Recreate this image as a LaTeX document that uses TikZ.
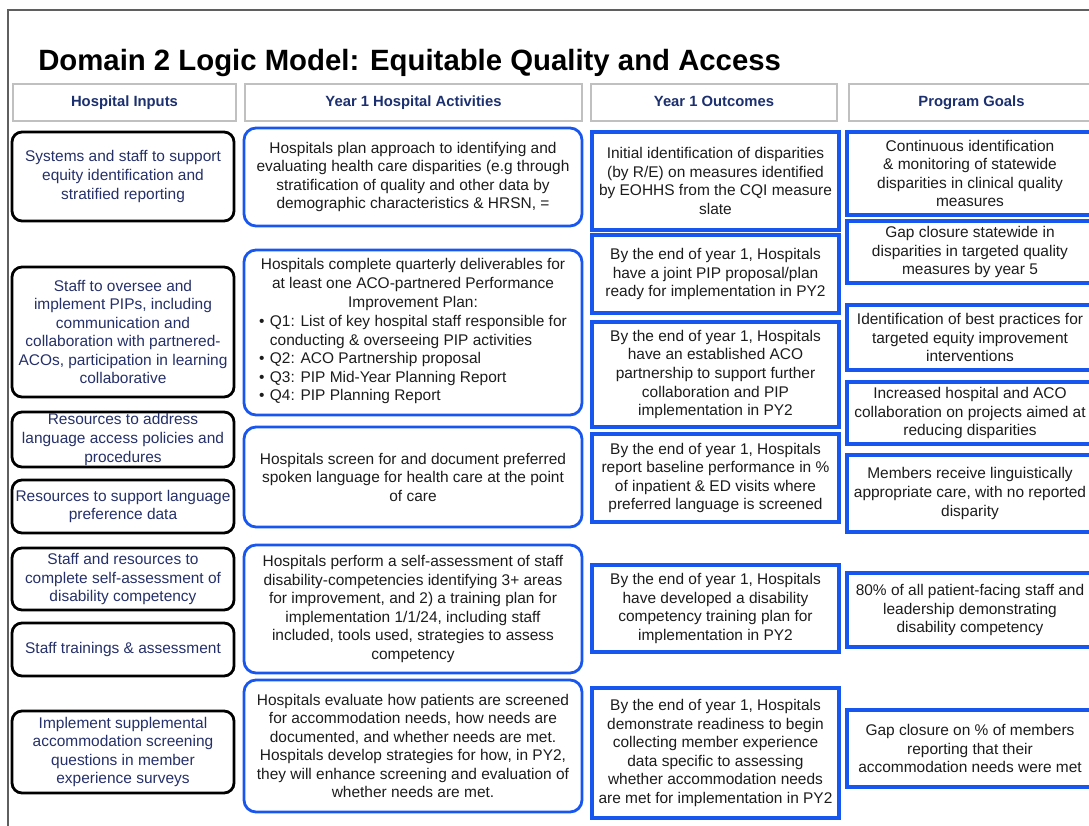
\documentclass[tikz,border=0pt]{standalone}
\usepackage{fontspec}
\setmainfont{Liberation Sans}
\definecolor{navy}{RGB}{37,48,105}
\definecolor{hnavy}{RGB}{28,48,112}
\definecolor{bbl}{RGB}{24,86,240}
\definecolor{hdrgray}{RGB}{192,192,192}
\definecolor{framegray}{RGB}{95,95,95}
\definecolor{txt}{RGB}{28,28,28}
\begin{document}
\begin{tikzpicture}[x=0.75pt,y=-0.75pt,
 base/.style={inner sep=0pt, align=center, font=\fontsize{11.6}{13.9}\selectfont},
 spot/.style n args={4}{minimum width={(#3-#1)*0.75pt}, minimum height={(#4-#2)*0.75pt}, at={({(#1+#3)/2},{(#2+#4)/2})}},
 hdr/.style={base, draw=hdrgray, line width=2.2pt, text=hnavy, text height=8.2pt, text depth=2.4pt, font=\fontsize{11.1}{13.3}\selectfont\bfseries},
 inbox/.style={base, draw=black, line width=2.1pt, rounded corners=7.5pt, text=navy},
 actbox/.style={base, draw=bbl, line width=2.1pt, rounded corners=9pt, text=txt},
 outbox/.style={base, draw=bbl, line width=2.5pt, text=txt},
 frameline/.style={draw=framegray, line width=1.2pt}
]
\useasboundingbox (0,0) rectangle (1089,825);
\clip (0,0) rectangle (1089,825);

% frame
\coordinate (ftr) at (1100,10);
\coordinate (ftl) at (8,10);
\coordinate (fbl) at (8,830);
\draw[frameline] (ftr) -- (ftl) -- (fbl);

% title
\node[inner sep=0pt, anchor=base west, font=\fontsize{22}{26}\selectfont\bfseries] (title) at (38,70) {Domain 2 Logic Model: Equitable Quality and Access};

% headers
\node[hdr, spot={13}{84}{236}{121}] (h1) {Hospital Inputs};
\node[hdr, spot={245}{84}{582}{121}] (h2) {Year 1 Hospital Activities};
\node[hdr, spot={591}{84}{837}{121}] (h3) {Year 1 Outcomes};
\node[hdr, spot={849}{84}{1094}{121}] (h4) {Program Goals};

% column 1: inputs
\node[inbox, spot={12}{132}{234}{221}] (i1) {Systems and staff to support\\ equity identification and\\ stratified reporting};
\node[inbox, spot={12}{267}{234}{397}] (i2) {Staff to oversee and\\ implement PIPs, including\\ communication and\\ collaboration with partnered-\\ ACOs, participation in learning\\ collaborative};
\node[inbox, spot={12}{412}{234}{467}] (i3) {Resources to address\\ language access policies and\\ procedures};
\node[inbox, spot={12}{480}{234}{533}] (i4) {Resources to support language\\ preference data};
\node[inbox, spot={12}{548}{234}{610}] (i5) {Staff and resources to\\ complete self-assessment of\\ disability competency};
\node[inbox, spot={12}{623}{234}{676}] (i6) {Staff trainings \& assessment};
\node[inbox, spot={12}{711}{234}{793}] (i7) {Implement supplemental\\ accommodation screening\\ questions in member\\ experience surveys};

% column 2: activities
\node[actbox, spot={244}{128}{582}{226}] (a1) {Hospitals plan approach to identifying and\\ evaluating health care disparities (e.g through\\ stratification of quality and other data by\\ demographic characteristics \& HRSN, =};
\node[actbox, spot={244}{250}{582}{415}] (a2) {Hospitals complete quarterly deliverables for\\ at least one ACO-partnered Performance\\ Improvement Plan:\\[1.5pt]
\begin{tabular}{@{}l@{\hspace{4pt}}l@{}}
\textbullet & Q1: List of key hospital staff responsible for\\
 & conducting \& overseeing PIP activities\\
\textbullet & Q2: ACO Partnership proposal\\
\textbullet & Q3: PIP Mid-Year Planning Report\\
\textbullet & Q4: PIP Planning Report
\end{tabular}};
\node[actbox, spot={244}{427}{582}{527}] (a3) {Hospitals screen for and document preferred\\ spoken language for health care at the point\\ of care};
\node[actbox, spot={244}{545}{582}{673}] (a4) {Hospitals perform a self-assessment of staff\\ disability-competencies identifying 3+ areas\\ for improvement, and 2) a training plan for\\ implementation 1/1/24, including staff\\ included, tools used, strategies to assess\\ competency};
\node[actbox, spot={244}{680}{582}{812}] (a5) {Hospitals evaluate how patients are screened\\ for accommodation needs, how needs are\\ documented, and whether needs are met.\\ Hospitals develop strategies for how, in PY2,\\ they will enhance screening and evaluation of\\ whether needs are met.};

% column 3: outcomes
\node[outbox, spot={592}{132}{839}{230}] (o1) {Initial identification of disparities\\ (by R/E) on measures identified\\ by EOHHS from the CQI measure\\ slate};
\node[outbox, spot={592}{235}{839}{313}] (o2) {By the end of year 1, Hospitals\\ have a joint PIP proposal/plan\\ ready for implementation in PY2};
\node[outbox, spot={592}{322}{839}{427}] (o3) {By the end of year 1, Hospitals\\ have an established ACO\\ partnership to support further\\ collaboration and PIP\\ implementation in PY2};
\node[outbox, spot={592}{434}{839}{522}] (o4) {By the end of year 1, Hospitals\\ report baseline performance in \%\\ of inpatient \& ED visits where\\ preferred language is screened};
\node[outbox, spot={592}{565}{839}{652}] (o5) {By the end of year 1, Hospitals\\ have developed a disability\\ competency training plan for\\ implementation in PY2};
\node[outbox, spot={592}{688}{839}{818}] (o6) {By the end of year 1, Hospitals\\ demonstrate readiness to begin\\ collecting member experience\\ data specific to assessing\\ whether accommodation needs\\ are met for implementation in PY2};

% column 4: goals
\node[outbox, spot={847}{132}{1093}{215}] (g1) {Continuous identification\\ \& monitoring of statewide\\ disparities in clinical quality\\ measures};
\node[outbox, spot={847}{221}{1093}{283}] (g2) {Gap closure statewide in\\ disparities in targeted quality\\ measures by year 5};
\node[outbox, spot={847}{305}{1093}{370}] (g3) {Identification of best practices for\\ targeted equity improvement\\ interventions};
\node[outbox, spot={847}{382}{1093}{444}] (g4) {Increased hospital and ACO\\ collaboration on projects aimed at\\ reducing disparities};
\node[outbox, spot={847}{455}{1093}{532}] (g5) {Members receive linguistically\\ appropriate care, with no reported\\ disparity};
\node[outbox, spot={847}{573}{1093}{647}] (g6) {80\% of all patient-facing staff and\\ leadership demonstrating\\ disability competency};
\node[outbox, spot={847}{710}{1093}{787}] (g7) {Gap closure on \% of members\\ reporting that their\\ accommodation needs were met};
\end{tikzpicture}
\end{document}
